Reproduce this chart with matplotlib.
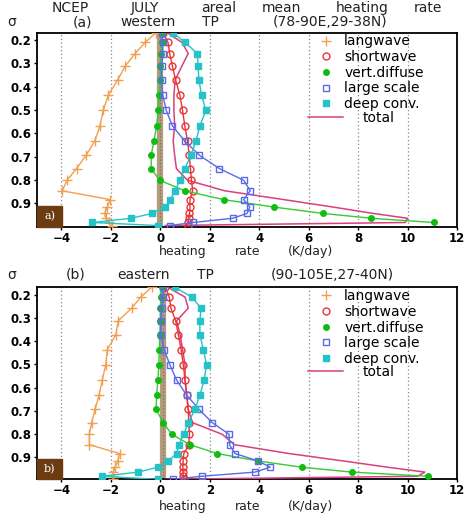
import numpy as np
import matplotlib
matplotlib.use("Agg")
import matplotlib.pyplot as plt
from matplotlib.lines import Line2D
from matplotlib.patches import Rectangle

nan = np.nan

# NCEP sigma levels
sigma = [0.168, 0.210, 0.258, 0.312, 0.372, 0.436, 0.502, 0.568, 0.633, 0.694,
         0.751, 0.801, 0.846, 0.884, 0.916, 0.943, 0.964, 0.982, 0.995]

# (a) western TP
lw_a = [-0.16, -0.61, -1.02, -1.42, -1.73, -2.10, -2.31, -2.44, -2.65, -3.00,
        -3.39, -3.77, -3.97, -2.03, -2.15, -2.25, -2.20, -2.07, -1.95]
sw_a = [0.10, 0.31, 0.38, 0.49, 0.62, 0.79, 0.90, 0.99, 1.10, 1.17,
        1.22, 1.26, 1.31, 1.20, 1.20, 1.18, 1.15, 1.13, 1.10]
vd_a = [0.05, 0.05, 0.03, 0.00, 0.00, -0.05, -0.08, -0.15, -0.26, -0.37,
        -0.37, -0.03, 0.99, 2.56, 4.60, 6.57, 8.54, 11.06, nan]
ls_a = [0.05, 0.10, 0.10, 0.05, 0.05, 0.10, 0.24, 0.49, 0.99, 1.58,
        2.39, 3.37, 3.64, 3.37, 3.62, 3.51, 2.92, 1.33, 0.38]
dc_a = [0.50, 0.99, 1.50, 1.53, 1.56, 1.67, 1.84, 1.60, 1.44, 1.24,
        0.99, 0.79, 0.60, 0.40, 0.20, -0.33, -1.18, -2.75, -0.10]
tot_a = [0.26, 0.87, 1.13, 0.87, 0.60, 0.55, 0.55, 0.58, 0.52, 0.58,
         0.65, 1.10, 2.60, 5.00, 7.00, 8.60, 10.00, 9.90, 0.20]

# (b) eastern TP
lw_b = [-0.35, -0.79, -1.16, -1.70, -1.80, -2.14, -2.21, -2.35, -2.48, -2.64,
        -2.78, -2.87, -2.87, -1.65, -1.72, -1.83, -1.90, -1.93, -1.90]
sw_b = [0.20, 0.36, 0.43, 0.62, 0.73, 0.84, 0.93, 1.00, 1.07, 1.13,
        1.15, 1.18, 1.15, 0.95, 0.92, 0.91, 0.92, 0.93, 0.95]
vd_b = [0.05, 0.03, 0.00, 0.00, -0.02, -0.04, -0.06, -0.10, -0.15, -0.17,
        0.12, 0.46, 1.20, 2.30, 3.95, 5.72, 7.74, 10.84, nan]
ls_b = [0.10, 0.12, 0.06, 0.02, 0.02, 0.15, 0.39, 0.66, 1.07, 1.57,
        2.10, 2.78, 2.80, 3.02, 3.96, 4.44, 3.83, 1.67, 0.50]
dc_b = [0.60, 1.27, 1.65, 1.60, 1.60, 1.74, 1.87, 1.77, 1.60, 1.40,
        1.13, 0.95, 0.75, 0.66, 0.32, -0.10, -0.89, -2.37, -0.10]
tot_b = [0.30, 1.00, 1.13, 0.66, 0.80, 0.90, 1.00, 1.00, 1.07, 1.13,
         1.30, 2.50, 3.00, 5.20, 7.40, 9.20, 10.70, 10.40, 0.20]

x_ticks = [-4, -2, 0, 2, 4, 6, 8, 10, 12]
y_ticks = [0.2, 0.3, 0.4, 0.5, 0.6, 0.7, 0.8, 0.9]
zero_band = {"a": 0.0, "b": 0.12}

c_lw = "#f0a050"
c_sw = "#e83535"
c_vd = "#33cc33"
c_ls = "#5a6ae8"
c_dc = "#25c3c8"
c_tot = "#d8407e"

styles = [
    ("langwave", dict(color=c_lw, marker="+", ms=6.5, mew=1.0)),
    ("shortwave", dict(color=c_sw, marker="o", ms=5, mfc="none", mew=1.0)),
    ("vert.diffuse", dict(color=c_vd, marker="o", ms=4, mfc="#11bb11", mec="#11bb11")),
    ("large scale", dict(color=c_ls, marker="s", ms=5, mfc="none", mew=1.0)),
    ("deep conv.", dict(color=c_dc, marker="s", ms=4.5, mfc=c_dc)),
]

fig = plt.figure(figsize=(4.73, 5.13), dpi=100)
W, H = 473.0, 513.0
txt_kw = dict(color="#222222", family="DejaVu Sans")


def words(y, items, size=10):
    for x, s in items:
        fig.text(x / W, 1 - y / H, s, ha="center", va="center", fontsize=size, **txt_kw)


def panel(rect, series, tot, tag, ylim):
    ax = fig.add_axes(rect)
    ax.set_xlim(-5, 12)
    ax.set_ylim(*ylim)
    for gx in [-4, -2, 2, 4, 6, 8, 10]:
        ax.axvline(gx, color="#888888", lw=0.9, ls=(0, (1, 2)), zorder=1)
    ax.axvline(zero_band[tag], color="#b39b7c", lw=4.5, zorder=1)
    ax.axvline(zero_band[tag], color="#7a6a58", lw=0.8, ls=(0, (1, 2)), zorder=1)

    ax.plot(tot, sigma, color=c_tot, lw=1.1, zorder=3)
    for (name, st), vals in zip(styles, series):
        ax.plot(vals, sigma, lw=1.0, zorder=4, **st)

    ax.set_xticks(x_ticks)
    ax.set_yticks(y_ticks)
    ax.set_yticklabels(["%.1f" % v for v in y_ticks])
    ax.tick_params(direction="out", length=2.5, width=1, labelsize=8.5, pad=1.2)
    for lab in ax.get_xticklabels() + ax.get_yticklabels():
        lab.set_fontweight("bold")
    for sp in ax.spines.values():
        sp.set_linewidth(1.3)

    # legend: markers
    handles = [Line2D([], [], ls="none", **st) for name, st in styles]
    leg1 = ax.legend(handles, [n for n, s in styles], loc="upper left",
                     bbox_to_anchor=(0.672, 0.99), frameon=False,
                     handlelength=1.0, handletextpad=0.8, labelspacing=0.12,
                     borderpad=0, borderaxespad=0, prop={"size": 10})
    ax.add_artist(leg1)
    ax.legend([Line2D([], [], color=c_tot, lw=1.1)], ["total"], loc="upper left",
              bbox_to_anchor=(0.645, 0.595), frameon=False,
              handlelength=2.5, handletextpad=1.45,
              borderpad=0, borderaxespad=0, prop={"size": 10})

    # panel tag box
    ax.add_patch(Rectangle((0, 0), 0.061, 0.106, transform=ax.transAxes,
                           color="#6b3c12", zorder=6, clip_on=False))
    ax.text(0.0305, 0.053, tag + ")", transform=ax.transAxes, ha="center",
            va="center", color="white", fontsize=8, family="DejaVu Serif",
            zorder=7)
    return ax


ax1 = panel([36.7 / W, 1 - 226.7 / H, 420.3 / W, 194.2 / H],
            [lw_a, sw_a, vd_a, ls_a, dc_a], tot_a, "a", (1.0, 0.168))
ax2 = panel([36.7 / W, 1 - 479.3 / H, 420.3 / W, 192.0 / H],
            [lw_b, sw_b, vd_b, ls_b, dc_b], tot_b, "b", (0.995, 0.168))

words(8, [(70, "NCEP"), (145, "JULY"), (219, "areal"), (281, "mean"),
          (362, "heating"), (428, "rate")])
words(22, [(12, "σ"), (83, "(a)"), (148, "western"), (210, "TP"),
           (330, "(78-90E,29-38N)")])
words(251.5, [(183, "heating"), (248, "rate"), (310, "(K/day)")], size=9)
words(275, [(12, "σ"), (76, "(b)"), (143, "eastern"), (205, "TP"),
            (332, "(90-105E,27-40N)")])
words(506.5, [(183, "heating"), (248, "rate"), (310, "(K/day)")], size=9)

fig.savefig("out.png", dpi=100)
